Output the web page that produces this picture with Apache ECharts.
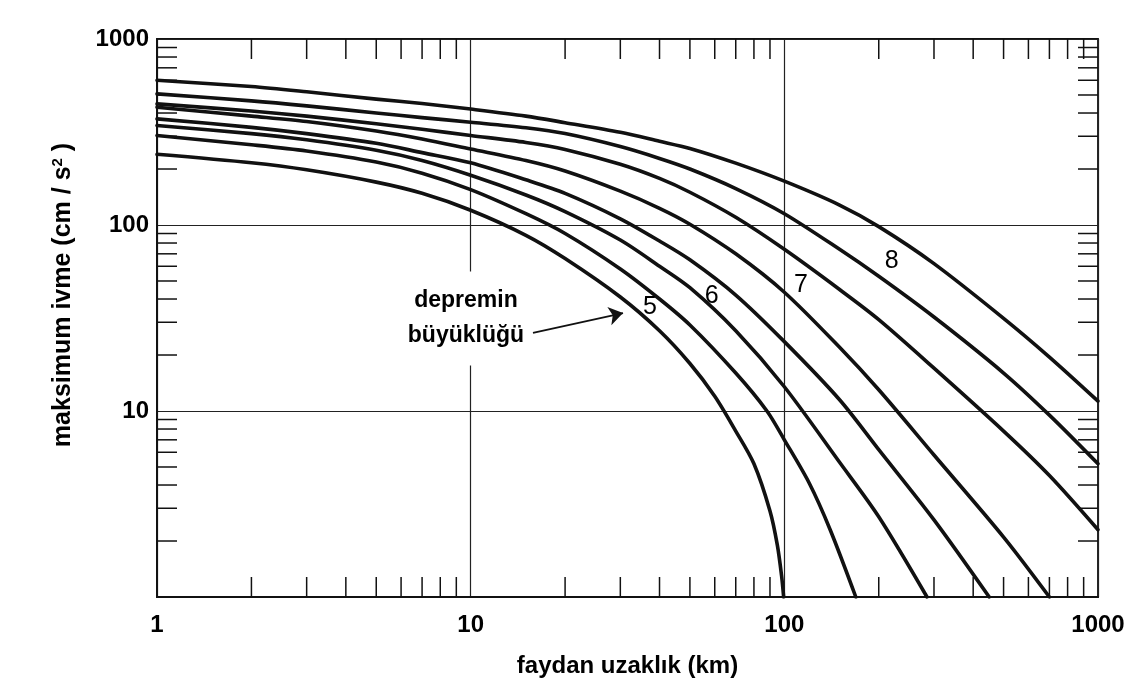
<!DOCTYPE html>
<html>
<head>
<meta charset="utf-8">
<script src="https://cdn.jsdelivr.net/npm/echarts@6/dist/echarts.min.js"></script>
<style>
html,body{margin:0;padding:0;background:#fff;}
#chart{width:1136px;height:689px;}
</style>
</head>
<body>
<div id="chart"></div>
<script>
// ---- data (distance km, max acceleration cm/s^2) ----
const m50 = [[1,240],[2,216],[3,198],[5,170],[7,148],[10,120],[15,88],[20,66],[30,41],[40,27],[50,18],[60,12],[70,7.8],[80,5.2],[90,2.9],[95,1.9],[98,1.3],[99.5,1]];
const m55 = [[1,303],[2,270],[3,250],[5,218],[7,190],[10,155],[15,115],[20,90],[30,58],[40,40],[50,29],[70,16],[88,10],[100,7.0],[120,4.1],[140,2.3],[169,1]];
const m60 = [[1,343],[2,310],[3,287],[5,252],[7,222],[10,185],[15,145],[20,118],[30,83],[40,60],[50,46],[70,27],[100,13.5],[150,5.3],[200,2.7],[285,1]];
const m65 = [[1,372],[2,335],[3,310],[5,275],[7,245],[10,216],[15,175],[20,148],[30,108],[40,82],[50,65],[70,42],[100,23.6],[150,11.5],[200,6.2],[300,2.6],[450,1]];
const m70 = [[1,430],[2,385],[3,360],[5,320],[7,290],[10,256],[15,222],[20,195],[30,152],[40,123],[50,101],[70,70],[100,43.5],[150,22],[200,13],[300,5.8],[500,2.1],[700,1]];
const m75 = [[1,448],[2,410],[3,385],[5,350],[7,327],[10,303],[15,278],[20,255],[30,212],[40,178],[50,150],[70,110],[100,74],[150,45],[200,31],[300,17],[500,7.8],[700,4.5],[1000,2.3]];
const m80 = [[1,507],[2,465],[3,437],[5,400],[7,378],[10,357],[15,333],[20,310],[30,264],[40,228],[50,200],[70,157],[100,115],[150,74],[200,53],[300,32],[500,16],[700,9.5],[1000,5.2]];
const m85 = [[1,600],[2,555],[3,520],[5,475],[7,450],[10,420],[15,385],[20,355],[30,315],[40,282],[50,258],[70,215],[100,172],[150,128],[200,98],[300,62],[500,31.5],[700,19.5],[1000,11.3]];
const curves = [m50, m55, m60, m65, m70, m75, m80, m85];

const xTickLabels = ['1','10','100','1000'];
const yTickLabels = ['10','100','1000'];
const minorTicks = [2,3,4,5,6,7,8,9,20,30,40,50,60,70,80,90,200,300,400,500,600,700,800,900];

// annotations (data coordinates)
const magLabels = ['5','6','7','8'];
const magLabelAt = [[37.3,36.2],[58.7,41.5],[113,47.5],[220,64]];
const noteText = 'depremin\nbüyüklüğü';
const noteAt = [9.66,31.4];
const arrowFrom = [15.8,26.3];
const arrowTo = [30.6,33.6];

const FONT = '"Liberation Sans", Arial, Helvetica, sans-serif';

const chart = echarts.init(document.getElementById('chart'), null, {renderer:'canvas'});

const series = curves.map((c,i) => ({
  type:'line', data:c, symbol:'none', smooth:0.3,
  lineStyle:{color:'#111', width:3.6, join:'round', cap:'round'}, clip:true, z:3, silent:true
}));

series.push({
  type:'custom', silent:true, z:2,
  data: minorTicks.map(v => [v, 1]),
  renderItem: function(params, api){
    const v = api.value(0);
    const b = api.coord([v, 1]);
    const t = api.coord([v, 1000]);
    return {type:'group', children:[
      {type:'line', shape:{x1:b[0], y1:b[1], x2:b[0], y2:b[1]-20}, style:{stroke:'#111', lineWidth:1.5}},
      {type:'line', shape:{x1:t[0], y1:t[1], x2:t[0], y2:t[1]+20}, style:{stroke:'#111', lineWidth:1.5}}
    ]};
  }
});
series.push({
  type:'custom', silent:true, z:2,
  data: minorTicks.map(v => [1, v]),
  renderItem: function(params, api){
    const v = api.value(1);
    const l = api.coord([1, v]);
    const r = api.coord([1000, v]);
    return {type:'group', children:[
      {type:'line', shape:{x1:l[0], y1:l[1], x2:l[0]+20, y2:l[1]}, style:{stroke:'#111', lineWidth:1.5}},
      {type:'line', shape:{x1:r[0], y1:r[1], x2:r[0]-20, y2:r[1]}, style:{stroke:'#111', lineWidth:1.5}}
    ]};
  }
});
series.push({
  type:'scatter', silent:true, z:5, symbolSize:0, itemStyle:{color:'#000', opacity:1},
  data: magLabels.map((t,i) => ({name:t, value:magLabelAt[i]})),
  label:{show:true, position:'inside', formatter:'{b}', color:'#000', opacity:1, fontSize:25, fontFamily:FONT}
});
series.push({
  type:'scatter', silent:true, z:5, symbolSize:0, itemStyle:{color:'#000', opacity:1},
  data: [{name:noteText, value:noteAt}],
  label:{show:true, position:'inside', formatter:'{b}', color:'#000', opacity:1, fontSize:23, fontWeight:'bold',
    fontFamily:FONT, lineHeight:35, backgroundColor:'#fff', padding:[12,4]}
});
series.push({
  type:'lines', coordinateSystem:'cartesian2d', silent:true, z:5,
  symbol:['none','arrow'], symbolSize:[1,14],
  lineStyle:{color:'#111', width:1.8, opacity:1},
  data:[{coords:[arrowFrom, arrowTo]}]
});

chart.setOption({
  backgroundColor:'#fff',
  animation:false,
  grid:{left:157, top:39, width:941, height:558, show:true, borderColor:'#111', borderWidth:1.8, backgroundColor:'transparent'},
  xAxis:{
    type:'log', logBase:10, min:1, max:1000,
    axisLine:{show:true, lineStyle:{color:'#111', width:1.8}},
    axisTick:{show:false},
    splitLine:{show:true, lineStyle:{color:'#222', width:1.2}},
    axisLabel:{margin:16, color:'#000', fontSize:24, fontWeight:'bold', fontFamily:FONT,
      formatter:function(v){ const s = String(Math.round(v)); return xTickLabels.indexOf(s) >= 0 ? s : ''; }},
    name:'faydan uzaklık (km)', nameLocation:'middle', nameGap:57,
    nameTextStyle:{color:'#000', fontSize:24, fontWeight:'bold', fontFamily:FONT}
  },
  yAxis:{
    type:'log', logBase:10, min:1, max:1000,
    axisLine:{show:true, lineStyle:{color:'#111', width:1.8}},
    axisTick:{show:false},
    splitLine:{show:true, lineStyle:{color:'#222', width:1.2}},
    axisLabel:{margin:8, color:'#000', fontSize:24, fontWeight:'bold', fontFamily:FONT, padding:[10,0,0,0],
      formatter:function(v){ const s = String(Math.round(v)); return yTickLabels.indexOf(s) >= 0 ? s : ''; }},
    name:'maksimum ivme (cm / s{sup|2} )', nameLocation:'middle', nameGap:80, nameRotate:90,
    nameTextStyle:{color:'#000', fontSize:25, fontWeight:'bold', fontFamily:FONT, padding:[0,0,0,46],
      rich:{sup:{fontSize:15, fontWeight:'bold', fontFamily:FONT, color:'#000', verticalAlign:'top', padding:[0,0,12,0]}}}
  },
  series:series
});
</script>
</body>
</html>
